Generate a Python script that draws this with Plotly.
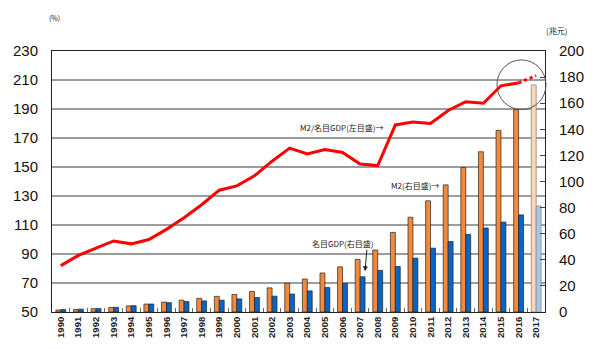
import plotly.graph_objects as go

years = [str(y) for y in range(1990, 2018)]
# M2 (trillion yuan, right axis)
m2 = [1.53, 1.93, 2.54, 3.49, 4.69, 6.07, 7.6, 9.1, 10.45, 11.99, 13.46, 15.83, 18.5, 22.1,
      25.3, 29.9, 34.6, 40.3, 47.5, 61.0, 72.6, 85.2, 97.4, 110.7, 122.8, 139.2, 155.0, 174.0]
# Nominal GDP (trillion yuan, right axis)
gdp = [1.87, 2.2, 2.7, 3.57, 4.86, 6.13, 7.18, 7.97, 8.52, 9.06, 10.03, 11.09, 12.17, 13.74,
       16.18, 18.73, 21.94, 27.0, 31.9, 34.9, 41.3, 48.9, 54.0, 59.5, 64.4, 68.9, 74.4, 81.2]
# M2 / nominal GDP (%, left axis)
ratio = [82, 89, 94, 99, 97, 100, 107, 115, 124, 134, 137, 144, 154, 163,
         159, 162, 160, 152, 151, 179, 181, 180, 189, 195, 194, 206, 208, 213]

left_ticks = list(range(50, 231, 20))
right_ticks = list(range(0, 201, 20))

orange, orange_l = "#F5893A", "#FBD4B4"
blue, blue_l = "#0A66C6", "#A8C6E8"

fig = go.Figure()
fig.add_trace(go.Bar(x=years, y=m2, name="M2",
                     marker=dict(color=[orange] * 27 + [orange_l],
                                 line=dict(color=["#222"] * 27 + ["#8a7a6a"], width=0.7))))
fig.add_trace(go.Bar(x=years, y=gdp, name="GDP",
                     marker=dict(color=[blue] * 27 + [blue_l],
                                 line=dict(color=["#222"] * 27 + ["#7a8aa0"], width=0.7))))
fig.add_trace(go.Scatter(x=years[:27], y=ratio[:27], yaxis="y2", mode="lines",
                         line=dict(color="#FF0000", width=3)))
fig.add_trace(go.Scatter(x=years[26:], y=ratio[26:], yaxis="y2", mode="lines",
                         line=dict(color="#FF0000", width=3, dash="dot")))

shapes = []
for v in left_ticks[1:-1]:
    shapes.append(dict(type="line", xref="paper", x0=0, x1=1, yref="y2", y0=v, y1=v,
                       line=dict(color="#3a3a3a", width=1), layer="below"))
shapes.append(dict(type="circle", xref="paper", yref="paper",
                   x0=0.9026, x1=1.002, y0=0.7757, y1=0.9658,
                   line=dict(color="#555", width=1)))

ann_font = dict(family="Noto Sans CJK JP", size=8, color="#222")
annotations = [
    dict(text="M2/名目GDP(左目盛)→", xref="paper", yref="paper", x=0.6775, y=0.7072,
         xanchor="right", yanchor="middle", showarrow=False, font=ann_font),
    dict(text="M2(右目盛)→", xref="paper", yref="paper", x=0.789, y=0.4829,
         xanchor="right", yanchor="middle", showarrow=False, font=ann_font),
    dict(text="名目GDP(右目盛)", xref="paper", yref="paper", x=0.5903, y=0.2624,
         xanchor="center", yanchor="middle", showarrow=False, font=ann_font),
    dict(text="", xref="paper", yref="paper", x=0.6349, y=0.1559, ax=2, ay=-23,
         showarrow=True, arrowhead=2, arrowsize=1, arrowwidth=1, arrowcolor="#222"),
    dict(text="(%)", xref="paper", yref="paper", x=0.006, y=1.1255,
         xanchor="center", yanchor="middle", showarrow=False,
         font=dict(family="Noto Sans CJK JP", size=7, color="#222")),
    dict(text="(兆元)", xref="paper", yref="paper", x=1.0243, y=1.08,
         xanchor="center", yanchor="middle", showarrow=False,
         font=dict(family="Noto Sans CJK JP", size=8, color="#222")),
]

fig.update_layout(
    width=600, height=350,
    margin=dict(l=52, r=55, t=51, b=36),
    paper_bgcolor="white", plot_bgcolor="white",
    showlegend=False,
    barmode="group", bargap=0.44, bargroupgap=0,
    shapes=shapes, annotations=annotations,
    xaxis=dict(type="category", showline=True, linecolor="#222", linewidth=1, mirror=True,
               ticks="inside", tickson="boundaries", ticklen=4, tickcolor="#666",
               tickangle=-90, tickfont=dict(family="Liberation Sans", size=9.5, color="#222",
                                             weight="bold"),
               showgrid=False),
    yaxis=dict(side="right", range=[0, 200], tickvals=right_ticks, showgrid=False,
               zeroline=False, showline=True, linecolor="#222", linewidth=1,
               ticks="inside", ticklen=5, tickcolor="#444", ticklabelstandoff=10,
               tickfont=dict(family="Liberation Sans", size=15, color="#111")),
    yaxis2=dict(side="left", overlaying="y", range=[50, 230], tickvals=left_ticks,
                showgrid=False, zeroline=False, showline=True, linecolor="#222", linewidth=1,
                ticks="", ticklabelstandoff=10,
                tickfont=dict(family="Liberation Sans", size=15, color="#111")),
)

fig.write_html("out.html")
